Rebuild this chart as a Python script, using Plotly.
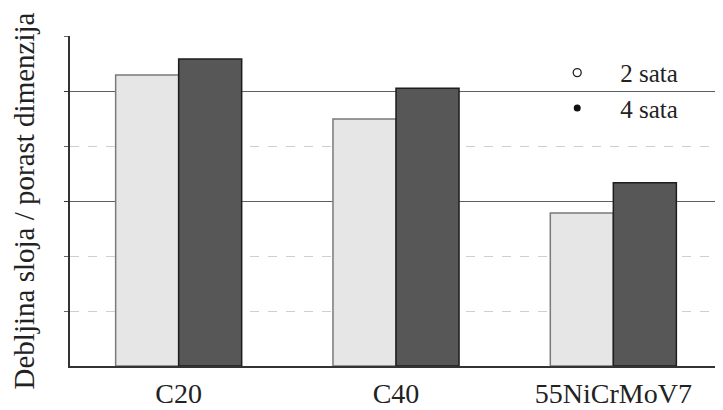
import plotly.graph_objects as go

categories = ["C20", "C40", "55NiCrMoV7"]
series_2h = [5.29, 4.49, 2.78]
series_4h = [5.58, 5.05, 3.33]
series_names = ["2 sata", "4 sata"]
y_title = "Debljina sloja / porast dimenzija"

serif = "Liberation Serif"

fig = go.Figure()
fig.add_trace(go.Bar(x=categories, y=series_2h, name=series_names[0], showlegend=False,
                     marker=dict(color="#e6e6e6", line=dict(color="#7a7a7a", width=1.5))))
fig.add_trace(go.Bar(x=categories, y=series_4h, name=series_names[1], showlegend=False,
                     marker=dict(color="#575757", line=dict(color="#1e1e1e", width=1.5))))
# legend entries (small circle markers as in the original)
fig.add_trace(go.Scatter(x=[None], y=[None], mode="markers", name=series_names[0],
                         marker=dict(symbol="circle-open", size=8, color="#222", line=dict(width=1.3))))
fig.add_trace(go.Scatter(x=[None], y=[None], mode="markers", name=series_names[1],
                         marker=dict(symbol="circle", size=7, color="#111")))

fig.update_layout(
    width=715, height=402,
    margin=dict(l=62, r=1, t=28, b=44, autoexpand=False),
    paper_bgcolor="white", plot_bgcolor="white",
    barmode="group", bargap=0.42, bargroupgap=0,
    font=dict(family=serif, size=20, color="#222"),
    showlegend=True,
    legend=dict(x=0.712, y=0.958, xanchor="left", yanchor="top", bgcolor="rgba(0,0,0,0)",
                tracegroupgap=0, itemwidth=76, font=dict(family=serif, size=25, color="#222")),
    xaxis=dict(showline=True, linecolor="#333", linewidth=1.5, ticks="",
               range=[-0.5, 2.5], showgrid=False, ticklabelstandoff=2,
               tickfont=dict(family=serif, size=28, color="#222")),
    yaxis=dict(range=[0, 6], showline=True, linecolor="#333", linewidth=1.5,
               tickvals=[3, 5], showticklabels=False, ticks="outside", ticklen=4, tickcolor="#333",
               showgrid=True, gridcolor="#606060", gridwidth=1.2, zeroline=False,
               minor=dict(tickvals=[1, 2, 4, 6], showgrid=True, gridcolor="#cfcfcf", gridwidth=1,
                          griddash="dash", ticks="outside", ticklen=4, tickcolor="#666"),
               title=dict(text=y_title, font=dict(family=serif, size=29, color="#222"), standoff=34),
               automargin=False),
)

fig.write_html("out.html")
